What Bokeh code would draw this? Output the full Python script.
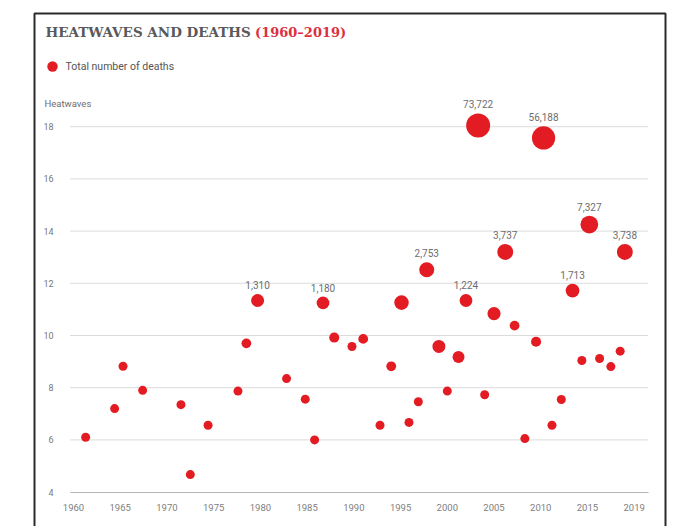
import numpy as np
from bokeh.plotting import figure
from bokeh.models import (ColumnDataSource, Label, Legend, LegendItem,
                          FixedTicker, BoxAnnotation, Range1d)
from bokeh.core.properties import value
from bokeh.embed import file_html
from bokeh.resources import INLINE

# ---------------- data ----------------
years = [1961.3, 1964.4, 1965.3, 1967.4, 1971.5, 1972.5, 1974.4, 1977.6,
         1978.5, 1979.7, 1982.8, 1984.8, 1985.8, 1986.7, 1987.9, 1989.8,
         1991.0, 1992.8, 1994.0, 1995.1, 1995.9, 1996.9, 1997.8, 1999.1,
         2000.0, 2001.2, 2002.0, 2003.3, 2004.0, 2005.0, 2006.2, 2007.2,
         2008.3, 2009.5, 2010.3, 2011.2, 2012.2, 2013.4, 2014.4, 2015.2,
         2016.3, 2017.5, 2018.5, 2019.0]
heatwaves = [6.1, 7.2, 8.82, 7.9, 7.35, 4.67, 6.56, 7.87,
             9.7, 11.34, 8.35, 7.56, 6.0, 11.25, 9.92, 9.58,
             9.87, 6.56, 8.82, 11.26, 6.67, 7.46, 12.52, 9.58,
             7.87, 9.18, 11.34, 18.05, 7.73, 10.84, 13.2, 10.38,
             6.05, 9.76, 17.57, 6.56, 7.55, 11.72, 9.04, 14.25,
             9.12, 8.81, 9.4, 13.2]
deaths = [250, 250, 250, 250, 250, 250, 250, 250,
          400, 1310, 250, 250, 250, 1180, 450, 250,
          400, 250, 400, 2300, 250, 250, 2753, 1300,
          300, 900, 1224, 73722, 300, 1400, 3737, 400,
          250, 450, 56188, 250, 300, 1713, 300, 7327,
          300, 250, 300, 3738]
labelled = [False, False, False, False, False, False, False, False,
            False, True, False, False, False, True, False, False,
            False, False, False, False, False, False, True, False,
            False, False, True, True, False, False, True, False,
            False, False, True, False, False, True, False, True,
            False, False, False, True]

x_ticks = [1960, 1965, 1970, 1975, 1980, 1985, 1990, 1995, 2000, 2005, 2010, 2015, 2020]
x_tick_labels = ["1960", "1965", "1970", "1975", "1980", "1985", "1990",
                 "1995", "2000", "2005", "2010", "2015", "2019"]
y_ticks = [4, 6, 8, 10, 12, 14, 16, 18]

title_main = "HEATWAVES AND DEATHS"
title_period = "(1960\u20132019)"
legend_text = "Total number of deaths"
y_title = "Heatwaves"

# ---------------- layout (frame = whole canvas) ----------------
W, H = 677, 526
PX_YR, PX_UNIT = 9.345, 26.1
X0 = 1960 - 73 / PX_YR
X1 = X0 + W / PX_YR
Y1 = 18 + 126.2 / PX_UNIT
Y0 = Y1 - H / PX_UNIT

def dx(px):
    return X0 + px / W * (X1 - X0)

def dy(py):
    return Y1 - py / H * (Y1 - Y0)

GX0, GX1 = dx(70), dx(648)

RED = "#e31b23"
GREY_T = "#58595b"

sizes = np.clip(-6.58 + 6.28 * np.log10(np.array(deaths, dtype=float)), 9, None)
texts = [f"{d:,}" if l else "" for d, l in zip(deaths, labelled)]
yoff = [-(s / 2 + 5) for s in sizes]

src = ColumnDataSource(dict(x=years, y=heatwaves, size=sizes, text=texts, yoff=yoff))

p = figure(width=W, height=H, x_range=Range1d(X0, X1), y_range=Range1d(Y0, Y1),
           output_backend="svg", toolbar_location=None, title=None)
p.min_border = 0
p.min_border_left = p.min_border_right = p.min_border_top = p.min_border_bottom = 0
p.outline_line_color = None
p.background_fill_color = "white"
p.border_fill_color = "white"

# grid lines (drawn between the axis bounds)
p.xgrid.visible = False
p.ygrid.visible = False
grid_y = [t for t in y_ticks if t != y_ticks[0]]
p.segment(x0=[GX0] * len(grid_y), x1=[GX1] * len(grid_y), y0=grid_y, y1=grid_y,
          line_color="#b8b8b8", line_dash="1 1", line_width=1)

# axes
p.yaxis.fixed_location = GX0
p.yaxis.ticker = FixedTicker(ticks=y_ticks)
p.yaxis.axis_line_color = None
p.yaxis.major_tick_line_color = None
p.yaxis.minor_tick_line_color = None
p.yaxis.major_label_standoff = 11
p.yaxis.major_label_text_font = "Roboto"
p.yaxis.major_label_text_font_size = "9px"
p.yaxis.major_label_text_color = "#777777"

p.xaxis.fixed_location = y_ticks[0]
p.xaxis.bounds = (GX0, GX1)
p.xaxis.ticker = FixedTicker(ticks=x_ticks)
p.xaxis.major_label_overrides = {t: l for t, l in zip(x_ticks, x_tick_labels)}
p.xaxis.axis_line_color = "#b5b5b5"
p.xaxis.axis_line_width = 1
p.xaxis.major_tick_line_color = None
p.xaxis.minor_tick_line_color = None
p.xaxis.major_label_standoff = 6
p.xaxis.major_label_text_font = "Roboto"
p.xaxis.major_label_text_font_size = "9.5px"
p.xaxis.major_label_text_color = "#808080"

# points
r = p.scatter("x", "y", size="size", source=src, fill_color=RED, line_color=None)

# value labels
p.text("x", "y", text="text", y_offset="yoff", source=src, text_align="center",
       text_baseline="bottom", text_font=value("Roboto"), text_font_size="10px",
       text_color="#6d6d6d")

# title
p.add_layout(Label(x=dx(45), y=dy(31.7), text=title_main, text_baseline="alphabetic",
                   text_font="DejaVu Serif", text_font_style="bold",
                   text_font_size="13.5px", text_color=GREY_T))
p.add_layout(Label(x=dx(254.5), y=dy(31.7), text=title_period, text_baseline="alphabetic",
                   text_font="DejaVu Serif", text_font_style="bold",
                   text_font_size="13px", text_color="#dc3040"))

# y title
p.add_layout(Label(x=dx(44), y=dy(102.7), text=y_title, text_baseline="middle",
                   text_font="Roboto", text_font_size="9.5px", text_color="#6d6d6d"))

# legend
GB = 26
legend = Legend(items=[LegendItem(label=legend_text, renderers=[r])],
                location=(51.5 - GB / 2, H - (66 + GB / 2)),
                glyph_width=GB, glyph_height=GB, label_height=GB,
                label_standoff=1, padding=0, margin=0, spacing=0,
                border_line_color=None, background_fill_alpha=0,
                label_text_font="Roboto", label_text_font_size="10.5px",
                label_text_color="#555555")
p.add_layout(legend, "center")

# outer frame
p.add_layout(BoxAnnotation(left=dx(34), right=dx(665), top=dy(13), bottom=dy(H + 30),
                           fill_alpha=0, line_color="#2a2a2a", line_alpha=1.0,
                           line_width=2))

open("out.html", "w").write(file_html(p, INLINE))
